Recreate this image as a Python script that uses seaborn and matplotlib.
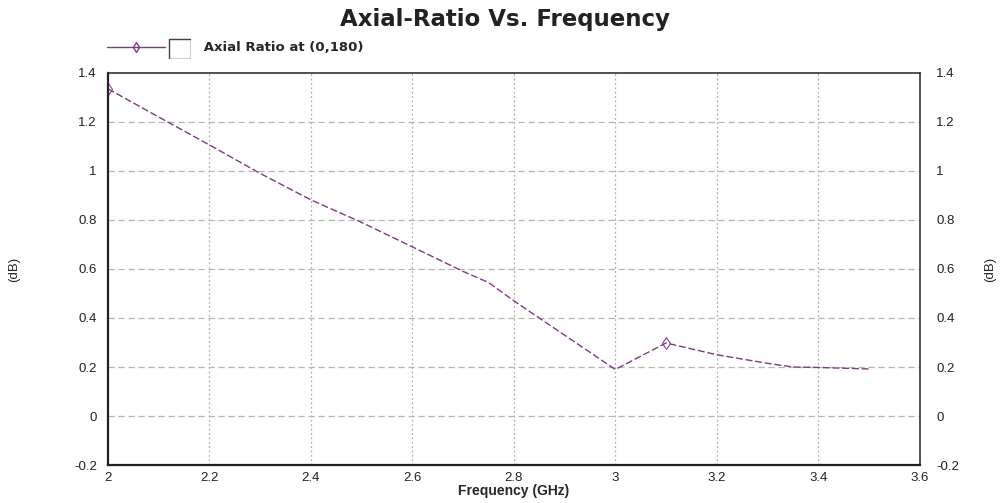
import numpy as np
import pandas as pd
import matplotlib
matplotlib.use("Agg")
import matplotlib.pyplot as plt
from matplotlib.patches import Rectangle
from matplotlib.lines import Line2D
import seaborn as sns

# ---- data ----
freq_ghz = [2.0, 2.1, 2.2, 2.3, 2.4, 2.5, 2.6, 2.7, 2.75, 2.8, 2.9, 3.0, 3.1, 3.2, 3.3, 3.35, 3.4, 3.5]
axial_ratio_db = [1.335, 1.22, 1.106, 0.99, 0.882, 0.79, 0.69, 0.59, 0.545, 0.47, 0.33, 0.19,
                  0.298, 0.25, 0.215, 0.20, 0.198, 0.192]
series_name = "Axial Ratio at (0,180)"
x_ticks = [2.0, 2.2, 2.4, 2.6, 2.8, 3.0, 3.2, 3.4, 3.6]
x_tick_labels = ["2", "2.2", "2.4", "2.6", "2.8", "3", "3.2", "3.4", "3.6"]
y_ticks = [-0.2, 0.0, 0.2, 0.4, 0.6, 0.8, 1.0, 1.2, 1.4]
y_tick_labels = ["-0.2", "0", "0.2", "0.4", "0.6", "0.8", "1", "1.2", "1.4"]
marker_idx = [0, 12]

df = pd.DataFrame({"Frequency": freq_ghz, "AR": axial_ratio_db})

sns.set_style("white")
plt.rcParams["font.family"] = ["Liberation Sans", "DejaVu Sans"]

fig = plt.figure(figsize=(10.04, 5.03), dpi=100)
ax = fig.add_axes([0.1076, 0.0755, 0.8084, 0.7795])

line_color = "#7d3c80"
sns.lineplot(data=df, x="Frequency", y="AR", ax=ax, color=line_color, lw=1.0,
             linestyle=(0, (5, 2)), marker="d", markersize=6, markerfacecolor="none",
             markeredgecolor=line_color, markevery=marker_idx, legend=False)

ax.set_xlim(2.0, 3.6)
ax.set_ylim(-0.2, 1.4)
ax.set_xticks(x_ticks)
ax.set_xticklabels(x_tick_labels)
ax.set_yticks(y_ticks)
ax.set_yticklabels(y_tick_labels)
ax.tick_params(axis="both", length=0, labelsize=9.5, colors="#222222", pad=8)
ax.tick_params(axis="x", pad=5)

# grid: vertical dotted, horizontal dashed
for xv in x_ticks[1:-1]:
    ax.axvline(xv, color="#b0b0b0", lw=0.9, linestyle=(0, (1.5, 2)), zorder=0)
for yv in y_ticks[1:-1]:
    ax.axhline(yv, color="#b5b5b5", lw=0.9, linestyle=(0, (5, 3)), zorder=0)

for side in ["left", "bottom"]:
    ax.spines[side].set_linewidth(1.6)
    ax.spines[side].set_color("#222222")
for side in ["top", "right"]:
    ax.spines[side].set_linewidth(1.2)
    ax.spines[side].set_color("#333333")

ax.set_xlabel("Frequency (GHz)", fontsize=10, fontweight="bold", labelpad=0)
ax.set_ylabel("(dB)", fontsize=9.5, labelpad=39)

ax2 = ax.twinx()
ax2.set_ylim(-0.2, 1.4)
ax2.set_yticks(y_ticks)
ax2.set_yticklabels(y_tick_labels)
ax2.tick_params(axis="y", length=0, labelsize=9.5, colors="#222222", pad=12)
ax2.set_ylabel("(dB)", fontsize=9.5, labelpad=18)
for s in ax2.spines.values():
    s.set_visible(False)

fig.suptitle("Axial-Ratio Vs. Frequency", x=0.503, y=0.985, fontsize=16.5,
             fontweight="bold", family=["DejaVu Sans"], color="#222222")

# legend: line with marker, a check box, and the label
handle = Line2D([0], [0], color=line_color, lw=1.0, marker="d", markersize=5,
                markerfacecolor="none", markeredgecolor=line_color)
leg = fig.legend(handles=[handle], labels=["      " + series_name], loc="center left",
                 bbox_to_anchor=(0.095, 0.905), frameon=False, handlelength=4.4,
                 prop={"size": 9.5, "weight": "bold", "family": "DejaVu Sans"})
box = Rectangle((0.168, 0.885), 0.021, 0.037, transform=fig.transFigure,
                facecolor="white", edgecolor="#cccccc", lw=0.8)
fig.add_artist(box)
fig.add_artist(Line2D([0.168, 0.168, 0.189], [0.885, 0.922, 0.922],
                      transform=fig.transFigure, color="#444444", lw=1.0))

fig.savefig("out.png", dpi=100)
